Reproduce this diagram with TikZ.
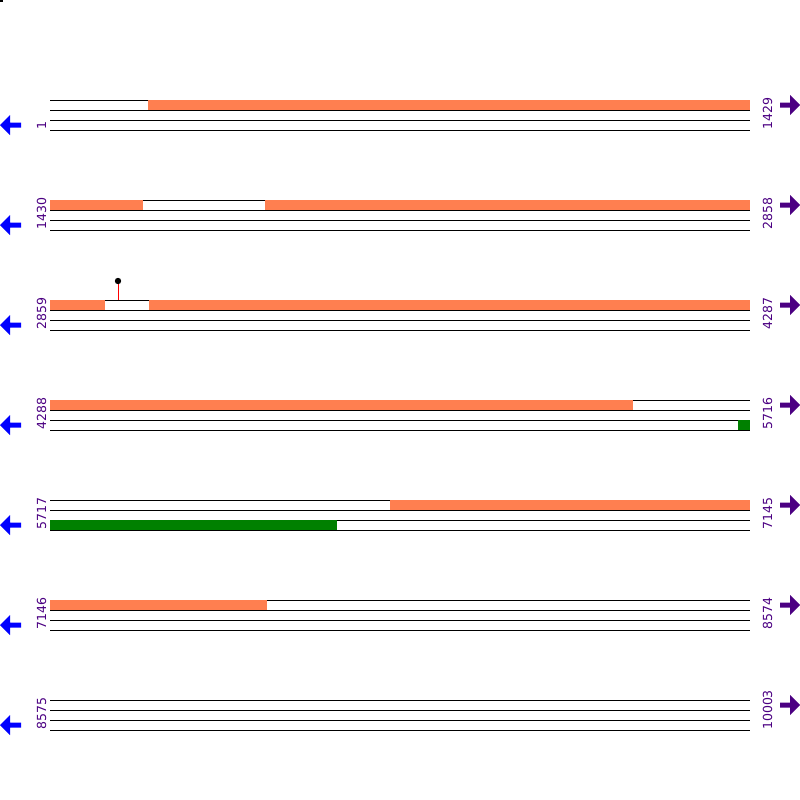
\documentclass[tikz,border=0pt]{standalone}
\usepackage{fontspec}
\setmainfont{DejaVu Sans}
\usetikzlibrary{calc}
\definecolor{coral}{HTML}{FF7F50}
\definecolor{seqgreen}{HTML}{008000}
\definecolor{seqpurple}{HTML}{4B0082}
\tikzset{
  track/.style={line width=1pt},
  orangebar/.style={fill=coral},
  greenbar/.style={fill=seqgreen},
  poslabel/.style={rotate=90, anchor=base west, inner sep=0pt, text=seqpurple, font=\fontsize{12.5}{14}\selectfont}
}
\begin{document}
\begin{tikzpicture}[x=1pt,y=-1pt]
% Mapa lineal de la secuencia en siete filas con sus posiciones
\useasboundingbox (0,0) rectangle (800,800);
\fill (0,0) rectangle (3,2);

\foreach \i/\first/\last in {0/1/1429, 1/1430/2858, 2/2859/4287, 3/4288/5716, 4/5717/7145, 5/7146/8574, 6/8575/10003} {
  \pgfmathsetmacro\b{100+100*\i}
  \foreach \k in {0,10,20,30}
    \draw[track] (50,\b+\k) -- (750,\b+\k);
  \node[poslabel] (first\i) at (46,\b+30) {\first};
  \node[poslabel] (last\i) at (772,\b+30) {\last};
  % flechas de sentido
  \fill[blue] (0,\b+25) -- ++(10,-10) -- ++(0,7.5) -- ++(11,0) -- ++(0,5) -- ++(-11,0) -- ++(0,7.5) -- cycle;
  \fill[seqpurple] (800,\b+5) -- ++(-10,-10) -- ++(0,7.5) -- ++(-10,0) -- ++(0,5) -- ++(10,0) -- ++(0,7.5) -- cycle;
}

% tramos naranjas
\fill[orangebar] (148,100) rectangle (750,110);
\fill[orangebar] (50,200) rectangle (143,210);
\fill[orangebar] (265,200) rectangle (750,210);
\fill[orangebar] (50,300) rectangle (105,310);
\fill[orangebar] (149,300) rectangle (750,310);
\fill[orangebar] (50,400) rectangle (633,410);
\fill[orangebar] (390,500) rectangle (750,510);
\fill[orangebar] (50,600) rectangle (267,610);

% tramos verdes
\fill[greenbar] (738,420) rectangle (750,430);
\fill[greenbar] (50,520) rectangle (337,530);

% marca
\coordinate (pinbase) at (118,300);
\coordinate (pintop) at (118,281);
\draw[red, line width=1pt] (pinbase) -- (pintop);
\fill (pintop) circle (3.2);
\end{tikzpicture}
\end{document}
